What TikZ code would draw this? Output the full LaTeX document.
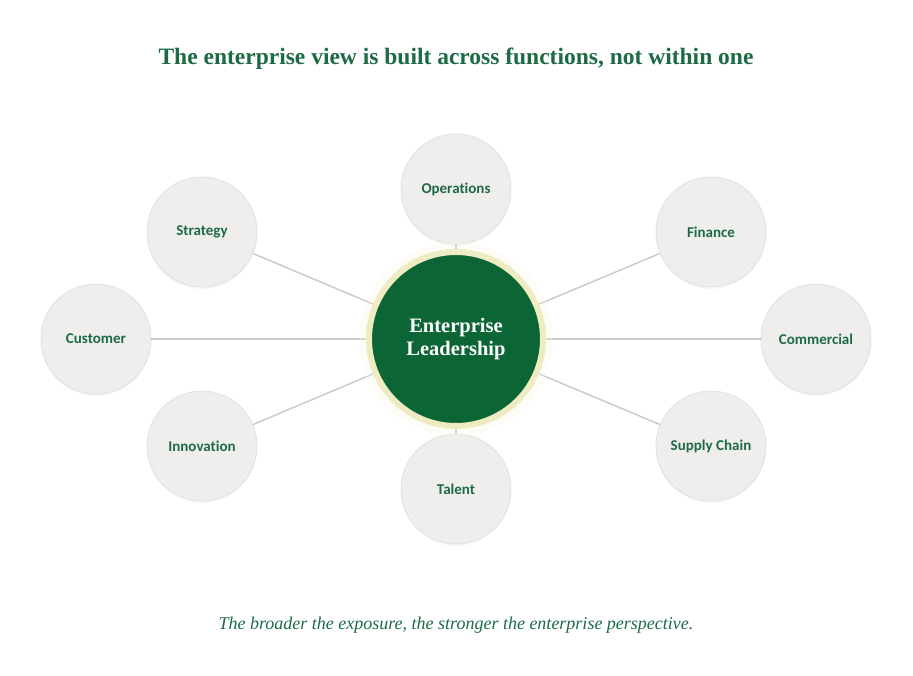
\documentclass[tikz,border=0pt]{standalone}
\usepackage{fontspec}
\setmainfont{Liberation Serif}
\newfontfamily\labelfont[Ligatures=NoCommon]{Carlito}
\usetikzlibrary{positioning, shadows}
\definecolor{leafgreen}{HTML}{0B6535}
\definecolor{textgreen}{HTML}{1D6B45}
\definecolor{halo}{HTML}{EFEBC2}
\definecolor{bubble}{HTML}{EFEEED}
\definecolor{bubbleline}{HTML}{E2E1E0}
\definecolor{spoke}{HTML}{C9C9C9}

\begin{document}
\begin{tikzpicture}[x=1pt, y=-1pt,
    func/.style={circle, fill=bubble, draw=bubbleline, line width=0.8pt, minimum size=110pt,
        inner sep=0pt, text=textgreen, font=\labelfont\bfseries\fontsize{15}{17}\selectfont,
        drop shadow={shadow xshift=0pt, shadow yshift=-2pt, opacity=0.06}},
    hub/.style={circle, fill=leafgreen, draw=halo, line width=6pt, minimum size=174pt,
        inner sep=0pt, text=white, align=center, font=\bfseries\fontsize{20.5}{23}\selectfont},
    link/.style={draw=spoke, line width=1.4pt}]
    \useasboundingbox[fill=white] (0,0) rectangle (913,675);

    % title
    \node[text=textgreen, font=\bfseries\fontsize{23.5}{26}\selectfont] (title) at (456,59)
        {The enterprise view is built across functions, not within one};

    % outer functions
    \node[func] (ops) at (456,189) {Operations};
    \node[func] (strat) at (202,232) {Strategy};
    \node[func] (fin) at (711,232) {Finance};
    \node[func] (cust) at (96,339) {Customer};
    \node[func] (comm) at (816,339) {Commercial};
    \node[func] (innov) at (202,446) {Innovation};
    \node[func] (supply) at (711,446) {Supply Chain};
    \node[func] (talent) at (456,489) {Talent};

    % centre
    \coordinate (mid) at (456,339);
    \foreach \f in {ops, strat, fin, cust, comm, innov, supply, talent}
        \draw[link] (mid) -- (\f);
    \node[circle, fill=halo!40, minimum size=194pt, opacity=0.3] (glow) at (mid) {};
    \node[hub] (lead) at (mid) {Enterprise\\Leadership};

    % caption
    \node[text=textgreen, font=\itshape\fontsize{18}{21}\selectfont] (note) at (456,625)
        {The broader the exposure, the stronger the enterprise perspective.};
\end{tikzpicture}
\end{document}
